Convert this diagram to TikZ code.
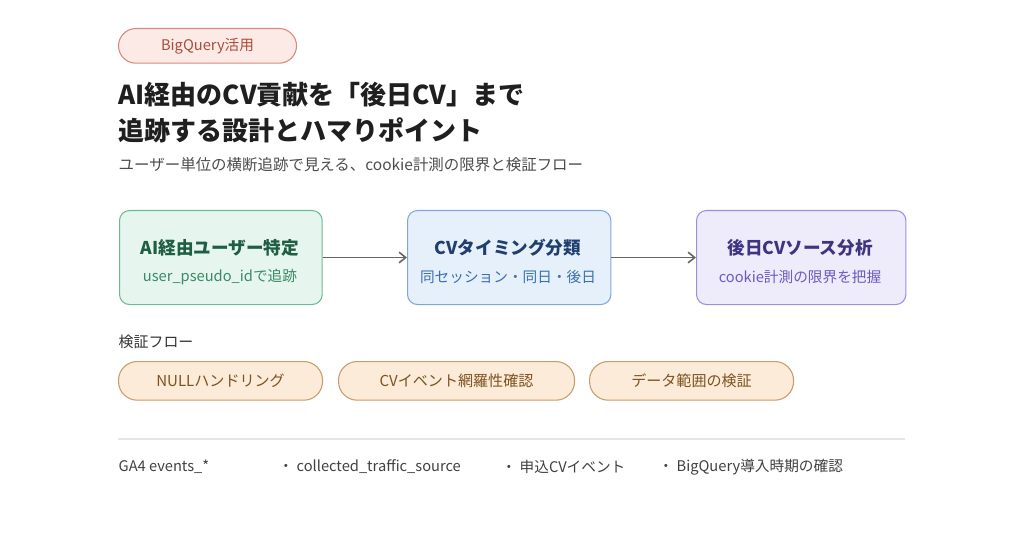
\documentclass[tikz,border=0pt]{standalone}
\usepackage{fontspec}
\setmainfont{Noto Sans CJK JP}
\usetikzlibrary{arrows.meta}
\definecolor{gfill}{HTML}{E6F5EE}\definecolor{gline}{HTML}{6DBB95}\definecolor{gtext}{HTML}{1E5E43}\definecolor{gsub}{HTML}{3A8A66}
\definecolor{bfill}{HTML}{E6F0FB}\definecolor{bline}{HTML}{7FA8D8}\definecolor{btext}{HTML}{1F3F6E}\definecolor{bsub}{HTML}{3A6FB0}
\definecolor{pfill}{HTML}{EEEBFB}\definecolor{pline}{HTML}{9C8FDB}\definecolor{ptext}{HTML}{3F3480}\definecolor{psub}{HTML}{6A5CC2}
\definecolor{ofill}{HTML}{FBEBD8}\definecolor{oline}{HTML}{C99C6A}\definecolor{otext}{HTML}{7E5320}
\begin{document}
\begin{tikzpicture}[x=0.75pt,y=-0.75pt,
 box/.style={draw,rounded corners=7.5pt,line width=0.8pt,minimum height=70.5pt,anchor=north west},
 pill/.style={draw=oline,fill=ofill,rounded corners=14pt,line width=0.8pt,minimum height=29pt,anchor=north west,text=otext,font=\fontsize{11.3}{13}\selectfont},
 arr/.style={draw=black!60,line width=1.2pt,-{Straight Barb[length=5pt,width=8pt]}},
 foot/.style={anchor=west,text=black!75,font=\fontsize{11}{12}\selectfont}]
\useasboundingbox (0,0) rectangle (1024,538);
\node[draw={rgb,255:red,217;green,137;blue,122},fill={rgb,255:red,252;green,234;blue,230},rounded corners=13pt,line width=0.8pt,minimum width=133.5pt,minimum height=26pt,anchor=north west,text={rgb,255:red,170;green,78;blue,58},font=\fontsize{11}{12}\selectfont] (tag) at (118,28) {BigQuery活用};
\node[anchor=west,font=\fontsize{19.5}{22}\bfseries\selectfont,text=black!88] (t1) at (114,95) {AI経由のCV貢献を「後日CV」まで};
\node[anchor=west,font=\fontsize{19.5}{22}\bfseries\selectfont,text=black!88] (t2) at (114,130) {追跡する設計とハマりポイント};
\node[anchor=west,font=\fontsize{11.6}{13}\selectfont,text=black!70] (st) at (114,165) {ユーザー単位の横断追跡で見える、cookie計測の限界と検証フロー};
\node[box,draw=gline,fill=gfill,minimum width=152pt,align=center] (a) at (119,210) {};
\node[font=\fontsize{13.2}{15}\bfseries\selectfont,text=gtext] at (220,248) {AI経由ユーザー特定};
\node[font=\fontsize{11}{12}\selectfont,text=gsub] at (220,277) {user\_pseudo\_idで追跡};
\node[box,draw=bline,fill=bfill,minimum width=152.5pt] (b) at (407,210) {};
\node[font=\fontsize{13.2}{15}\bfseries\selectfont,text=btext] at (508,248) {CVタイミング分類};
\node[font=\fontsize{11}{12}\selectfont,text=bsub] at (508,277) {同セッション・同日・後日};
\node[box,draw=pline,fill=pfill,minimum width=157pt] (c) at (696,210) {};
\node[font=\fontsize{13.2}{15}\bfseries\selectfont,text=ptext] at (800,248) {後日CVソース分析};
\node[font=\fontsize{11}{12}\selectfont,text=psub] at (800,277) {cookie計測の限界を把握};
\draw[arr] (a.east) -- (b.west);
\draw[arr] (b.east) -- (c.west);
\node[anchor=west,font=\fontsize{11.2}{13}\selectfont,text=black!80] (vf) at (114,342) {検証フロー};
\node[pill,minimum width=153pt] (p1) at (118,361) {NULLハンドリング};
\node[pill,minimum width=177pt] (p2) at (338,361) {CVイベント網羅性確認};
\node[pill,minimum width=153pt] (p3) at (589,361) {データ範囲の検証};
\draw[black!10,line width=0.8pt] (118,439) -- (905,439);
\node[foot] (f1) at (114,467) {GA4 events\_*};
\node[foot] (f2) at (274,467) {・ collected\_traffic\_source};
\node[foot] (f3) at (497,467) {・ 申込CVイベント};
\node[foot] (f4) at (654,467) {・ BigQuery導入時期の確認};
\end{tikzpicture}
\end{document}
